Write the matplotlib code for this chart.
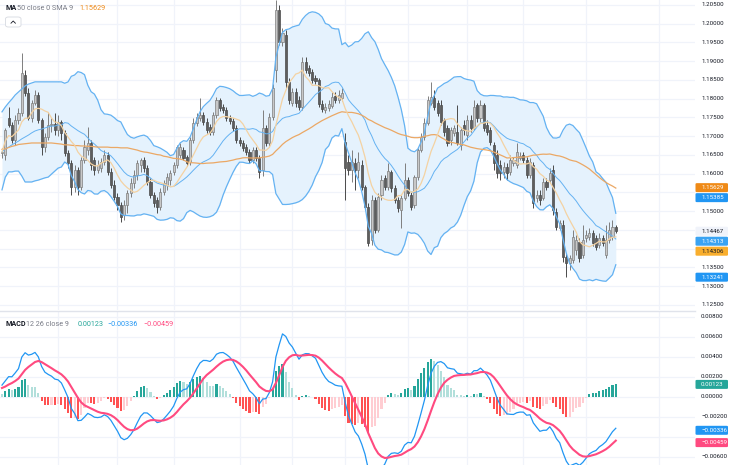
import numpy as np
import pandas as pd
import matplotlib
matplotlib.use("Agg")
import matplotlib.pyplot as plt
from matplotlib.patches import FancyBboxPatch
from matplotlib.lines import Line2D

plt.rcParams['font.family'] = ['Roboto', 'DejaVu Sans']

# ---------------- data (daily OHLC) ----------------
opens = [
    1.1655, 1.1650, 1.1749, 1.1730, 1.1690, 1.1743, 1.1762, 1.1863, 1.1815, 1.1749,
    1.1789, 1.1810, 1.1743, 1.1671, 1.1698, 1.1730, 1.1733, 1.1717, 1.1738, 1.1709,
    1.1655, 1.1629, 1.1565, 1.1610, 1.1565, 1.1637, 1.1663, 1.1682, 1.1637, 1.1610,
    1.1615, 1.1631, 1.1650, 1.1605, 1.1570, 1.1538, 1.1517, 1.1490, 1.1517, 1.1549,
    1.1575, 1.1597, 1.1623, 1.1637, 1.1615, 1.1578, 1.1543, 1.1530, 1.1511, 1.1551,
    1.1570, 1.1583, 1.1605, 1.1623, 1.1650, 1.1663, 1.1645, 1.1631, 1.1690, 1.1735,
    1.1749, 1.1757, 1.1738, 1.1725, 1.1711, 1.1757, 1.1797, 1.1778, 1.1770, 1.1749,
    1.1741, 1.1722, 1.1690, 1.1682, 1.1671, 1.1658, 1.1637, 1.1663, 1.1642, 1.1610,
    1.1722, 1.1682, 1.1751, 1.1877, 1.2037, 1.1951, 1.1970, 1.1845, 1.1789, 1.1818,
    1.1797, 1.1778, 1.1898, 1.1882, 1.1871, 1.1855, 1.1850, 1.1786, 1.1770, 1.1775,
    1.1781, 1.1807, 1.1797, 1.1802, 1.1685, 1.1631, 1.1610, 1.1629, 1.1610, 1.1623,
    1.1565, 1.1511, 1.1423, 1.1530, 1.1450, 1.1543, 1.1589, 1.1565, 1.1605, 1.1562,
    1.1530, 1.1503, 1.1535, 1.1583, 1.1543, 1.1517, 1.1591, 1.1663, 1.1698, 1.1735,
    1.1789, 1.1802, 1.1789, 1.1783, 1.1743, 1.1722, 1.1690, 1.1709, 1.1711, 1.1677,
    1.1730, 1.1703, 1.1743, 1.1722, 1.1783, 1.1749, 1.1783, 1.1730, 1.1717, 1.1677,
    1.1650, 1.1623, 1.1605, 1.1618, 1.1605, 1.1629, 1.1623, 1.1642, 1.1650, 1.1637,
    1.1597, 1.1623, 1.1535, 1.1543, 1.1535, 1.1578, 1.1583, 1.1610, 1.1498, 1.1455,
    1.1463, 1.1378, 1.1362, 1.1370, 1.1397, 1.1418, 1.1383, 1.1429, 1.1431, 1.1442,
    1.1429, 1.1410, 1.1429, 1.1383, 1.1423, 1.1431, 1.1458,
]
highs = [
    1.1669, 1.1722, 1.1778, 1.1738, 1.1757, 1.1775, 1.1922, 1.1877, 1.1829, 1.1797,
    1.1823, 1.1818, 1.1749, 1.1709, 1.1765, 1.1749, 1.1762, 1.1757, 1.1743, 1.1717,
    1.1663, 1.1637, 1.1623, 1.1618, 1.1645, 1.1690, 1.1725, 1.1690, 1.1645, 1.1637,
    1.1642, 1.1663, 1.1658, 1.1615, 1.1583, 1.1549, 1.1525, 1.1530, 1.1557, 1.1589,
    1.1610, 1.1637, 1.1642, 1.1645, 1.1623, 1.1589, 1.1551, 1.1538, 1.1562, 1.1583,
    1.1602, 1.1610, 1.1631, 1.1677, 1.1682, 1.1671, 1.1650, 1.1698, 1.1749, 1.1762,
    1.1802, 1.1765, 1.1749, 1.1733, 1.1765, 1.1805, 1.1802, 1.1786, 1.1778, 1.1757,
    1.1749, 1.1730, 1.1698, 1.1690, 1.1679, 1.1666, 1.1671, 1.1671, 1.1650, 1.1770,
    1.1730, 1.1762, 1.1839, 1.2063, 1.2050, 1.1989, 1.1983, 1.1855, 1.1829, 1.1829,
    1.1807, 1.1911, 1.1911, 1.1890, 1.1879, 1.1863, 1.1855, 1.1797, 1.1789, 1.1797,
    1.1818, 1.1818, 1.1823, 1.1829, 1.1709, 1.1650, 1.1663, 1.1642, 1.1658, 1.1637,
    1.1570, 1.1522, 1.1543, 1.1538, 1.1549, 1.1597, 1.1597, 1.1629, 1.1610, 1.1570,
    1.1538, 1.1543, 1.1629, 1.1591, 1.1551, 1.1597, 1.1669, 1.1709, 1.1749, 1.1807,
    1.1845, 1.1823, 1.1797, 1.1797, 1.1749, 1.1730, 1.1725, 1.1730, 1.1783, 1.1725,
    1.1743, 1.1757, 1.1757, 1.1797, 1.1789, 1.1797, 1.1789, 1.1743, 1.1725, 1.1685,
    1.1663, 1.1637, 1.1631, 1.1629, 1.1650, 1.1645, 1.1682, 1.1658, 1.1658, 1.1645,
    1.1642, 1.1631, 1.1557, 1.1557, 1.1589, 1.1589, 1.1615, 1.1623, 1.1509, 1.1477,
    1.1477, 1.1389, 1.1383, 1.1450, 1.1437, 1.1429, 1.1463, 1.1450, 1.1455, 1.1450,
    1.1437, 1.1442, 1.1437, 1.1463, 1.1471, 1.1477, 1.1463,
]
lows = [
    1.1642, 1.1637, 1.1725, 1.1682, 1.1677, 1.1733, 1.1754, 1.1807, 1.1743, 1.1738,
    1.1783, 1.1735, 1.1650, 1.1658, 1.1690, 1.1711, 1.1703, 1.1701, 1.1690, 1.1647,
    1.1615, 1.1543, 1.1551, 1.1543, 1.1557, 1.1629, 1.1650, 1.1610, 1.1597, 1.1602,
    1.1605, 1.1623, 1.1597, 1.1562, 1.1530, 1.1503, 1.1471, 1.1477, 1.1495, 1.1538,
    1.1562, 1.1583, 1.1605, 1.1605, 1.1570, 1.1535, 1.1511, 1.1495, 1.1503, 1.1543,
    1.1557, 1.1570, 1.1597, 1.1615, 1.1642, 1.1637, 1.1621, 1.1623, 1.1682, 1.1727,
    1.1741, 1.1730, 1.1709, 1.1703, 1.1703, 1.1749, 1.1767, 1.1762, 1.1741, 1.1733,
    1.1714, 1.1682, 1.1674, 1.1661, 1.1650, 1.1629, 1.1629, 1.1634, 1.1589, 1.1594,
    1.1674, 1.1674, 1.1743, 1.1845, 1.1943, 1.1941, 1.1829, 1.1786, 1.1781, 1.1778,
    1.1770, 1.1770, 1.1869, 1.1861, 1.1842, 1.1839, 1.1778, 1.1765, 1.1762, 1.1767,
    1.1775, 1.1789, 1.1789, 1.1794, 1.1530, 1.1597, 1.1578, 1.1557, 1.1589, 1.1557,
    1.1503, 1.1407, 1.1410, 1.1442, 1.1445, 1.1530, 1.1557, 1.1557, 1.1551, 1.1522,
    1.1498, 1.1455, 1.1530, 1.1541, 1.1503, 1.1509, 1.1583, 1.1658, 1.1690, 1.1730,
    1.1783, 1.1770, 1.1754, 1.1730, 1.1701, 1.1674, 1.1677, 1.1701, 1.1677, 1.1663,
    1.1703, 1.1690, 1.1711, 1.1717, 1.1738, 1.1738, 1.1714, 1.1703, 1.1677, 1.1610,
    1.1589, 1.1583, 1.1589, 1.1583, 1.1597, 1.1621, 1.1615, 1.1637, 1.1629, 1.1589,
    1.1589, 1.1509, 1.1525, 1.1517, 1.1530, 1.1557, 1.1575, 1.1490, 1.1450, 1.1450,
    1.1365, 1.1325, 1.1343, 1.1362, 1.1383, 1.1365, 1.1375, 1.1418, 1.1423, 1.1407,
    1.1397, 1.1402, 1.1407, 1.1375, 1.1415, 1.1423, 1.1442,
]
closes = [
    1.1658, 1.1717, 1.1730, 1.1690, 1.1743, 1.1762, 1.1869, 1.1815, 1.1749, 1.1789,
    1.1810, 1.1743, 1.1671, 1.1698, 1.1730, 1.1733, 1.1717, 1.1738, 1.1709, 1.1655,
    1.1629, 1.1565, 1.1610, 1.1565, 1.1637, 1.1671, 1.1682, 1.1623, 1.1610, 1.1623,
    1.1631, 1.1650, 1.1605, 1.1570, 1.1538, 1.1517, 1.1485, 1.1517, 1.1549, 1.1575,
    1.1597, 1.1629, 1.1637, 1.1615, 1.1578, 1.1543, 1.1522, 1.1511, 1.1551, 1.1575,
    1.1591, 1.1602, 1.1623, 1.1671, 1.1671, 1.1642, 1.1629, 1.1690, 1.1735, 1.1751,
    1.1757, 1.1738, 1.1717, 1.1711, 1.1757, 1.1797, 1.1775, 1.1770, 1.1749, 1.1741,
    1.1722, 1.1690, 1.1682, 1.1669, 1.1658, 1.1637, 1.1663, 1.1642, 1.1605, 1.1722,
    1.1682, 1.1751, 1.1829, 1.2037, 1.1951, 1.1975, 1.1845, 1.1797, 1.1818, 1.1789,
    1.1778, 1.1898, 1.1877, 1.1869, 1.1850, 1.1847, 1.1786, 1.1773, 1.1778, 1.1786,
    1.1805, 1.1797, 1.1810, 1.1815, 1.1615, 1.1610, 1.1631, 1.1610, 1.1631, 1.1565,
    1.1511, 1.1415, 1.1530, 1.1450, 1.1538, 1.1583, 1.1565, 1.1607, 1.1562, 1.1530,
    1.1509, 1.1535, 1.1583, 1.1549, 1.1511, 1.1591, 1.1663, 1.1698, 1.1735, 1.1797,
    1.1805, 1.1778, 1.1762, 1.1738, 1.1711, 1.1682, 1.1717, 1.1722, 1.1682, 1.1717,
    1.1717, 1.1743, 1.1722, 1.1778, 1.1749, 1.1783, 1.1722, 1.1711, 1.1685, 1.1629,
    1.1602, 1.1602, 1.1618, 1.1602, 1.1637, 1.1637, 1.1658, 1.1647, 1.1637, 1.1597,
    1.1631, 1.1522, 1.1543, 1.1530, 1.1578, 1.1565, 1.1602, 1.1503, 1.1458, 1.1469,
    1.1378, 1.1362, 1.1375, 1.1431, 1.1423, 1.1375, 1.1423, 1.1437, 1.1442, 1.1415,
    1.1405, 1.1429, 1.1415, 1.1423, 1.1450, 1.1458, 1.14467,
]

# indicator values on the first bars, before a full window exists in the visible data
ma50_head = [
    1.1665, 1.1666, 1.1670, 1.1673, 1.1675, 1.1678, 1.1679, 1.1680, 1.1681, 1.1682,
    1.1682, 1.1682, 1.1682, 1.1682, 1.1682, 1.1682, 1.1681, 1.1680, 1.1679, 1.1677,
    1.1677, 1.1676, 1.1675, 1.1675, 1.1674, 1.1674, 1.1673, 1.1673, 1.1672, 1.1671,
    1.1671, 1.1671, 1.1671, 1.1670, 1.1670, 1.1670, 1.1669, 1.1669, 1.1669, 1.1667,
    1.1665, 1.1663, 1.1660, 1.1658, 1.1657, 1.1655, 1.1653, 1.1651, 1.1650,
]
bb_upper_head = [
    1.1765, 1.1778, 1.1789, 1.1799, 1.1810, 1.1818, 1.1826, 1.1834, 1.1839, 1.1842,
    1.1845, 1.1845, 1.1845, 1.1845, 1.1845, 1.1845, 1.1845, 1.1845, 1.1845,
]
bb_basis_head = [
    1.1658, 1.1666, 1.1671, 1.1677, 1.1682, 1.1687, 1.1693, 1.1698, 1.1703, 1.1709,
    1.1714, 1.1717, 1.1719, 1.1722, 1.1725, 1.1727, 1.1727, 1.1730, 1.1730,
]
bb_lower_head = [
    1.1557, 1.1591, 1.1605, 1.1605, 1.1607, 1.1607, 1.1594, 1.1578, 1.1578, 1.1578,
    1.1581, 1.1583, 1.1586, 1.1589, 1.1591, 1.1599, 1.1607, 1.1615, 1.1618,
]
# EMA states just before the first visible bar
ema_fast_prev = 1.1652
ema_slow_prev = 1.1640
signal_prev = 0.0008

# indicator settings
ma_len = 50
fast_len = 9
bb_len = 20
bb_mult = 2.0
macd_fast, macd_slow, macd_signal_len = 12, 26, 9

# bars where a new period starts (vertical grid lines)
period_starts = [17, 35, 52, 72, 88, 104, 123, 141, 158, 177, 199]

price_ticks = [1.205, 1.200, 1.195, 1.190, 1.185, 1.180, 1.175, 1.170, 1.165,
               1.160, 1.155, 1.150, 1.145, 1.140, 1.135, 1.130, 1.125]
macd_ticks = [0.008, 0.006, 0.004, 0.002, 0.0, -0.002, -0.004, -0.006]

# last values shown on the chart
ma_last = 1.15629
bb_upper_last = 1.15385
last_price = 1.14467
bb_basis_last = 1.14313
fast_last = 1.14306
bb_lower_last = 1.13241
hist_last = 0.00123
macd_last = -0.00336
signal_last = -0.00459

# ---------------- indicators ----------------
c = pd.Series(closes)
ma50 = c.rolling(ma_len).mean().to_numpy()
ma50[:len(ma50_head)] = ma50_head
fast = c.rolling(fast_len, min_periods=1).mean().to_numpy()
basis = c.rolling(bb_len).mean()
dev = c.rolling(bb_len).std(ddof=0)
upper = (basis + bb_mult * dev).to_numpy()
lower = (basis - bb_mult * dev).to_numpy()
basis = basis.to_numpy()
upper[:len(bb_upper_head)] = bb_upper_head
basis[:len(bb_basis_head)] = bb_basis_head
lower[:len(bb_lower_head)] = bb_lower_head


def ema(values, length, prev):
    a = 2.0 / (length + 1)
    out = []
    e = prev
    for v in values:
        e = a * v + (1 - a) * e
        out.append(e)
    return np.array(out)


ema_f = ema(closes, macd_fast, ema_fast_prev)
ema_s = ema(closes, macd_slow, ema_slow_prev)
macd = ema_f - ema_s
signal = ema(macd, macd_signal_len, signal_prev)
hist = macd - signal

n = len(closes)
idx = np.arange(n)

# ---------------- colours ----------------
GRID = '#f0f3fa'
TXT = '#131722'
GRAY = '#787b86'
BLUE = '#2196f3'
BB_LINE = '#64b2f2'
BB_FILL = '#e5f2fd'
ORANGE = '#ef8a17'
MA_LINE = '#eba865'
FAST_BOX = '#f9ae2d'
FAST_LINE = '#f4d2a2'
MACD_BLUE = '#2196f3'
SIG_PINK = '#ff4a80'
UP_BODY = '#c8c8c8'
UP_EDGE = '#7e7e7e'
DN_BODY = '#5e5e5e'
DN_EDGE = '#4a4a4a'

W, H = 733, 465
PLOT_R = 695
fig = plt.figure(figsize=(W / 100, H / 100), dpi=100)
fig.patch.set_facecolor('white')


def fx(px):
    return px / W


def fy(py):
    return 1 - py / H


ax1 = fig.add_axes([0, fy(310), fx(PLOT_R), 310 / H])
ax2 = fig.add_axes([0, 0, fx(PLOT_R), fy(312)])
xlim = (-0.606, 210.0)
for ax in (ax1, ax2):
    ax.set_xlim(*xlim)
    ax.axis('off')
ax1.set_ylim(1.12366, 1.20633)
ax2.set_ylim(-0.00683, 0.00847)

# grid
for ax, ticks in ((ax1, price_ticks), (ax2, macd_ticks)):
    for t in ticks:
        ax.axhline(t, color=GRID, lw=0.9, zorder=0)
    for b in period_starts:
        ax.axvline(b, color=GRID, lw=0.9, zorder=0)

# Bollinger bands
ax1.fill_between(idx, lower, upper, color=BB_FILL, lw=0, zorder=1)
ax1.plot(idx, upper, color=BB_LINE, lw=0.9, zorder=4)
ax1.plot(idx, lower, color=BB_LINE, lw=0.9, zorder=4)
ax1.plot(idx, basis, color=BB_LINE, lw=0.7, zorder=4)

# candles
o = np.array(opens); h = np.array(highs); l = np.array(lows); cl = np.array(closes)
up = cl >= o
for i in range(n):
    col = UP_EDGE if up[i] else DN_EDGE
    ax1.vlines(i, l[i], h[i], color=col, lw=0.7, zorder=2)
body_lo = np.minimum(o, cl)
body_h = np.maximum(np.abs(cl - o), 0.00008)
ax1.bar(idx[up], body_h[up], bottom=body_lo[up], width=0.62, color=UP_BODY,
        edgecolor=UP_EDGE, linewidth=0.5, zorder=3)
ax1.bar(idx[~up], body_h[~up], bottom=body_lo[~up], width=0.62, color=DN_BODY,
        edgecolor=DN_EDGE, linewidth=0.5, zorder=3)

# moving averages
ax1.plot(idx, ma50, color=MA_LINE, lw=0.9, zorder=5)
ax1.plot(idx, fast, color=FAST_LINE, lw=0.9, zorder=5)

# MACD
hcol = []
for i in range(n):
    prev = hist[i - 1] if i > 0 else hist[i]
    if hist[i] >= 0:
        hcol.append('#26a69a' if hist[i] > prev else '#b2dfdb')
    else:
        hcol.append('#ff5252' if hist[i] < prev else '#ffcdd2')
ax2.bar(idx, hist, width=0.65, color=hcol, zorder=2)
ax2.plot(idx, macd, color=MACD_BLUE, lw=0.9, zorder=3)
ax2.plot(idx, signal, color=SIG_PINK, lw=1.5, zorder=4)

# separator between panes
fig.add_artist(Line2D([0, fx(PLOT_R)], [fy(311), fy(311)], color='#e0e3eb', lw=1.0,
                      transform=fig.transFigure))

# ---------------- right axis labels ----------------
def yfig(ax, v):
    return ax.transData.transform((0, v))[1] / H


BOX_H = 10.0


def place_boxes(ax, items):
    out = []
    pos = sorted([(yfig(ax, v) * H, t, bg, fg) for v, t, bg, fg in items], key=lambda z: -z[0])
    last = None
    for y, t, bg, fg in pos:
        if last is not None and last - y < BOX_H:
            y = last - BOX_H
        out.append((y, t, bg, fg))
        last = y
    return out


def draw_axis(ax, ticks, fmt, items):
    boxes = place_boxes(ax, items)
    for t in ticks:
        y = yfig(ax, t) * H
        if any(abs(y - b[0]) < 7 for b in boxes):
            continue
        if y < 0 or y > H:
            continue
        fig.text(fx(701), y / H, fmt(t), fontsize=4.4, color=TXT, va='center', ha='left')
    for y, t, bg, fg in boxes:
        fig.add_artist(FancyBboxPatch((fx(695.5), (y - BOX_H / 2 + 0.5) / H), fx(32.5), (BOX_H - 1) / H,
                                      boxstyle='round,pad=0,rounding_size=0.002',
                                      fc=bg, ec='none', transform=fig.transFigure, zorder=5))
        fig.text(fx(701), y / H, t, fontsize=4.4, color=fg, va='center', ha='left', zorder=6)


pfmt = lambda v: f"{v:.5f}"
mfmt = lambda v: (f"{v:.5f}" if v >= 0 else "\u2212" + f"{-v:.5f}")

draw_axis(ax1, price_ticks, pfmt, [
    (ma_last, pfmt(ma_last), ORANGE, 'white'),
    (bb_upper_last, pfmt(bb_upper_last), BLUE, 'white'),
    (last_price, pfmt(last_price), '#f0f3fa', TXT),
    (bb_basis_last, pfmt(bb_basis_last), '#3aa3f2', 'white'),
    (fast_last, pfmt(fast_last), FAST_BOX, TXT),
    (bb_lower_last, pfmt(bb_lower_last), BLUE, 'white'),
])
draw_axis(ax2, macd_ticks, mfmt, [
    (hist_last, mfmt(hist_last), '#26a69a', 'white'),
    (macd_last, mfmt(macd_last), MACD_BLUE, 'white'),
    (signal_last, mfmt(signal_last), SIG_PINK, 'white'),
])

# ---------------- legends ----------------
fs = 5.2
fig.text(fx(5), fy(8), "MA", fontsize=fs, color=TXT, va='center', ha='left', fontweight='bold')
fig.text(fx(17), fy(8), "50 close 0 SMA 9", fontsize=fs, color=GRAY, va='center', ha='left')
fig.text(fx(79), fy(8), pfmt(ma_last), fontsize=fs, color=ORANGE, va='center', ha='left')

fig.add_artist(FancyBboxPatch((fx(5.5), fy(27)), fx(15.5), 10 / H,
                              boxstyle='round,pad=0,rounding_size=0.004',
                              fc='white', ec='#d6d9e0', lw=0.6, transform=fig.transFigure))
fig.add_artist(Line2D([fx(11), fx(13.2), fx(15.4)], [fy(23.2), fy(21.0), fy(23.2)],
                      color=TXT, lw=0.6, transform=fig.transFigure))

fig.text(fx(5), fy(324), "MACD", fontsize=fs, color=TXT, va='center', ha='left', fontweight='bold')
fig.text(fx(26), fy(324), "12 26 close 9", fontsize=fs, color=GRAY, va='center', ha='left')
fig.text(fx(78), fy(324), mfmt(hist_last), fontsize=fs, color='#26a69a', va='center', ha='left')
fig.text(fx(107), fy(324), mfmt(macd_last), fontsize=fs, color=MACD_BLUE, va='center', ha='left')
fig.text(fx(143), fy(324), mfmt(signal_last), fontsize=fs, color=SIG_PINK, va='center', ha='left')

fig.savefig('out.png', dpi=100, facecolor='white')
